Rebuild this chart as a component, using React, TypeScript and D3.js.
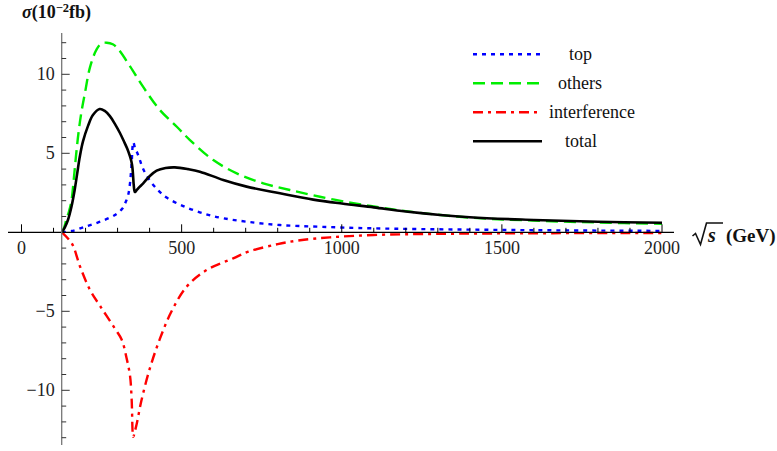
import React from "react";
import * as d3 from "d3";

// ---- data (sqrt(s) in GeV, sigma in 10^-2 fb) ----
const topX = [126, 157, 198, 245, 292, 315, 325, 333, 339, 344, 349, 355, 362, 370, 380, 400, 427, 453, 505, 573, 630, 703, 807, 932, 1098, 1400, 1700, 2000];
const topY = [0, 0.08, 0.35, 0.67, 1.1, 1.5, 1.9, 2.35, 3.15, 4.4, 5.7, 5.3, 5.0, 4.55, 4.0, 3.3, 2.65, 2.2, 1.66, 1.16, 0.89, 0.67, 0.46, 0.35, 0.25, 0.17, 0.12, 0.09];

const othersX = [126, 133, 140, 148, 156, 163, 170, 178, 187, 198, 214, 235, 250, 266, 285, 302, 339, 380, 432, 485, 526, 599, 672, 755, 838, 932, 1036, 1119, 1200, 1400, 1600, 1800, 2000];
const othersY = [0, 0.3, 0.8, 1.3, 2.0, 3.3, 4.8, 6.3, 7.6, 8.8, 10.45, 11.6, 11.95, 12.0, 11.9, 11.6, 10.5, 9.2, 7.74, 6.68, 5.84, 4.57, 3.73, 3.1, 2.68, 2.25, 1.84, 1.58, 1.34, 0.93, 0.74, 0.62, 0.54];

const interfX = [126, 157, 183, 214, 245, 292, 313, 328, 339, 344, 349, 354, 360, 375, 401, 432, 469, 516, 578, 661, 708, 800, 870, 963, 1098, 1300, 1600, 2000];
const interfY = [0, -0.7, -2.18, -3.65, -4.65, -6.1, -6.8, -7.95, -9.1, -10.6, -12.95, -12.6, -12.1, -10.6, -8.6, -6.75, -4.98, -3.44, -2.39, -1.65, -1.23, -0.75, -0.5, -0.32, -0.17, -0.1, -0.06, -0.04];

const totalX = [126, 135, 145, 156, 166, 174, 182, 192, 208, 223, 244, 260, 276, 292, 307, 320, 330, 338, 343, 346, 348, 350, 352, 354, 357, 365, 380, 400, 422, 450, 479, 520, 557, 630, 703, 807, 911, 1000, 1100, 1200, 1400, 1600, 1800, 2000];
const totalY = [0, 0.3, 0.78, 1.62, 2.68, 3.73, 4.78, 5.75, 6.75, 7.42, 7.8, 7.68, 7.35, 6.85, 6.3, 5.75, 5.3, 4.85, 4.5, 4.15, 3.7, 3.1, 2.7, 2.55, 2.6, 2.8, 3.1, 3.55, 3.9, 4.07, 4.11, 4.0, 3.84, 3.31, 2.89, 2.47, 2.07, 1.82, 1.58, 1.32, 0.95, 0.78, 0.67, 0.6];

const legendLabels = ["top", "others", "interference", "total"];
const xMajorTicks = [0, 500, 1000, 1500, 2000];
const yMajorTicks = [-10, -5, 5, 10];

// ---- styling / layout ----
const seriesStyle = [
  { color: "#0000ff", dash: "4 5" },
  { color: "#00ee00", dash: "12 6" },
  { color: "#ff0000", dash: "10 5 3 5" },
  { color: "#000000", dash: "" },
];
const legendTextX = [569, 558, 549, 565];
const FONT = '"Liberation Serif", "DejaVu Serif", serif';

export default function App() {
  const W = 777, H = 451;
  const x = d3.scaleLinear().domain([0, 2000]).range([21.5, 662]);
  const y = d3.scaleLinear().domain([0, 10]).range([232.3, 74.3]);
  const axisX = x(125.5);
  const axisY = y(0);

  const series = [
    [topX, topY],
    [othersX, othersY],
    [interfX, interfY],
    [totalX, totalY],
  ];
  const line = d3
    .line<[number, number]>()
    .x((d) => x(d[0]))
    .y((d) => y(d[1]))
    .curve(d3.curveCatmullRom.alpha(0.5));

  const xMinor = d3.range(0, 2001, 100);
  const yMinor = d3.range(-13, 13, 1).filter((v) => v !== 0);
  const ts: React.CSSProperties = { fontFamily: FONT };

  return (
    <svg
      width={W}
      height={H}
      style={{ position: "absolute", left: 0, top: 0, background: "#fff", fontFamily: FONT }}
    >
      <rect width={W} height={H} fill="#fff" />
      {/* curves */}
      {series.map(([xs, ys], i) => (
        <path
          key={i}
          d={line(xs.map((v, j) => [v, ys[j]] as [number, number])) || ""}
          fill="none"
          stroke={seriesStyle[i].color}
          strokeWidth={i === 3 ? 2.6 : 2.4}
          strokeDasharray={seriesStyle[i].dash || undefined}
        />
      ))}

      {/* x axis */}
      <line x1={8} x2={674} y1={axisY} y2={axisY} stroke="#000" strokeWidth={1.2} />
      {xMinor.map((v) => (
        <line
          key={"xm" + v}
          x1={x(v)}
          x2={x(v)}
          y1={axisY}
          y2={axisY - (xMajorTicks.includes(v) ? 8 : 4.5)}
          stroke="#000"
          strokeWidth={1}
        />
      ))}
      {xMajorTicks.map((v) => (
        <text key={"xl" + v} x={x(v)} y={254} fontSize={18} textAnchor="middle" fill="#222" style={ts}>
          {v}
        </text>
      ))}

      {/* y axis */}
      <line x1={axisX} x2={axisX} y1={33} y2={445} stroke="#777" strokeWidth={1.3} />
      {yMinor.map((v) => (
        <line
          key={"ym" + v}
          x1={axisX}
          x2={axisX + (yMajorTicks.includes(v) ? 8 : 4.5)}
          y1={y(v)}
          y2={y(v)}
          stroke="#333"
          strokeWidth={1}
        />
      ))}
      {yMajorTicks.map((v) => (
        <text key={"yl" + v} x={axisX - 7} y={y(v) + 6} fontSize={18} textAnchor="end" fill="#222" style={ts}>
          {v < 0 ? "\u2212" + Math.abs(v) : v}
        </text>
      ))}

      {/* y title */}
      <text x={22} y={18} fontSize={18} fontWeight="bold" fill="#111" style={ts}>
        <tspan fontStyle="italic">σ</tspan>
        <tspan>(10</tspan>
        <tspan dy={-6} fontSize={12.5}>−2</tspan>
        <tspan dy={6}>fb)</tspan>
      </text>

      {/* x title: radical sign drawn as a path, then s and (GeV) */}
      <path
        d="M692.5,236 L695.5,233.5 L700.5,244.5 L706.5,223 L723,223"
        fill="none"
        stroke="#111"
        strokeWidth={1.6}
        strokeLinejoin="miter"
      />
      <text x={708} y={242} fontSize={20} fontWeight="bold" fontStyle="italic" fill="#111" style={ts}>
        s
      </text>
      <text x={726} y={242} fontSize={19} fontWeight="bold" fill="#111" style={ts}>
        (GeV)
      </text>

      {/* legend */}
      {legendLabels.map((lab, i) => {
        const ly = 54.3 + i * 29;
        return (
          <g key={lab}>
            <line
              x1={473}
              x2={542}
              y1={ly}
              y2={ly}
              stroke={seriesStyle[i].color}
              strokeWidth={2.6}
              strokeDasharray={seriesStyle[i].dash || undefined}
            />
            <text x={legendTextX[i]} y={ly + 6} fontSize={18} fill="#111" style={ts}>
              {lab}
            </text>
          </g>
        );
      })}
    </svg>
  );
}
